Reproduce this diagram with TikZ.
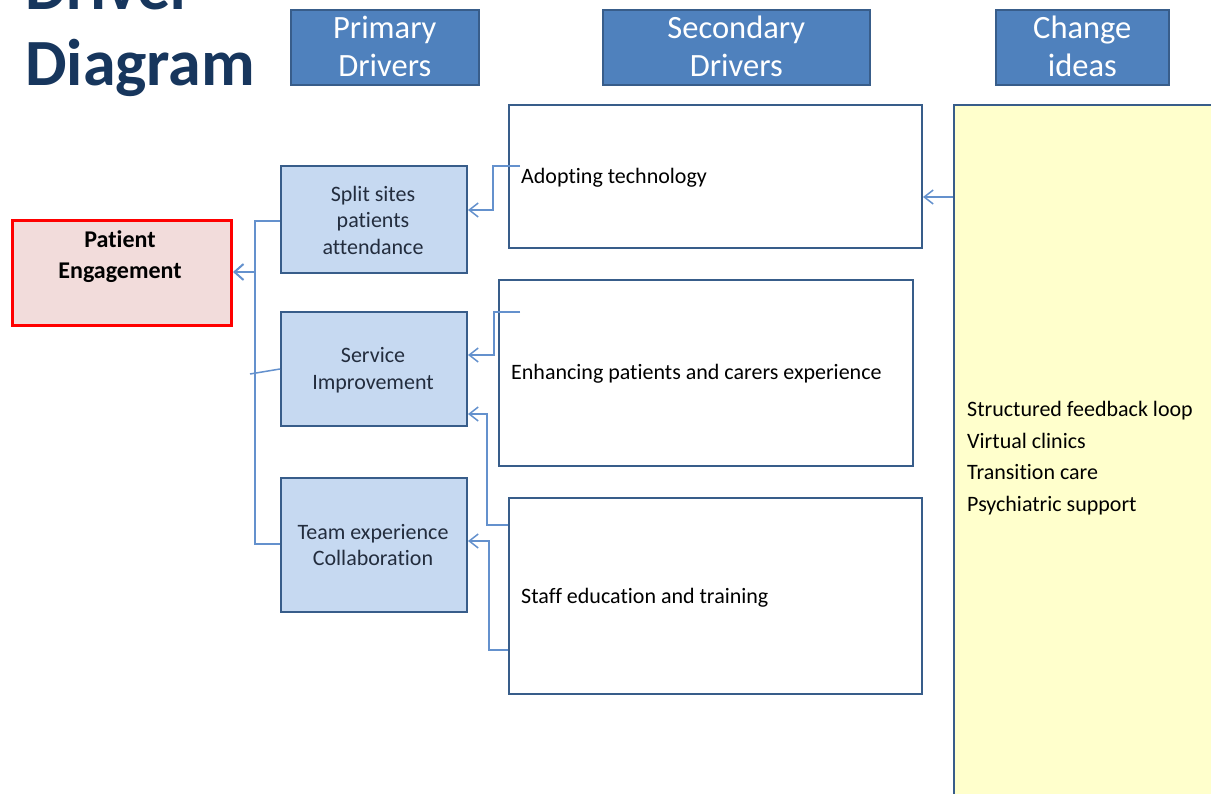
\documentclass[tikz,border=0pt]{standalone}
\usepackage{fontspec}
\setmainfont{Carlito}[Ligatures=NoCommon]
\usetikzlibrary{arrows.meta}
\definecolor{navy}{RGB}{23,54,93}
\definecolor{hdrfill}{RGB}{79,129,189}
\definecolor{boxline}{RGB}{56,93,138}
\definecolor{pfill}{RGB}{198,217,241}
\definecolor{pefill}{RGB}{242,220,219}
\definecolor{ideafill}{RGB}{255,255,204}
\definecolor{link}{RGB}{100,145,205}
\definecolor{ptext}{RGB}{35,45,62}
\begin{document}
\begin{tikzpicture}[x=1pt,y=-1pt,
  box/.style={draw=boxline, line width=2pt, anchor=north west, inner sep=0pt},
  header/.style={box, fill=hdrfill, line width=1.6pt},
  hdrtext/.style={text=white, font=\fontsize{32.5}{38}\selectfont, align=center},
  primary/.style={box, fill=pfill},
  ptxt/.style={text=ptext, font=\fontsize{22}{26.5}\selectfont, align=center},
  secondary/.style={box, fill=white},
  stxt/.style={anchor=west, text=black, font=\fontsize{22}{26}\selectfont, inner sep=0pt},
  conn/.style={draw=link, line width=1.5pt},
  arr/.style={conn, -{Straight Barb[length=9pt,width=14pt,line width=1.5pt]}}
]
\useasboundingbox (0,0) rectangle (1211,794);
\clip (0,0) rectangle (1211,794);

% title
\node[anchor=base west, inner sep=0pt, text=navy, font=\bfseries\fontsize{66}{78}\selectfont] (t1) at (25,10) {Driver};
\node[anchor=base west, inner sep=0pt, text=navy, font=\bfseries\fontsize{66}{78}\selectfont] (t2) at (25,86) {Diagram};

% column headers
\node[header, minimum width=188pt, minimum height=75pt] (h1) at (290,9) {};
\node[hdrtext] (h1t) at ([yshift=1pt]h1.center) {Primary\\Drivers};
\node[header, minimum width=267pt, minimum height=75pt] (h2) at (602,9) {};
\node[hdrtext] (h2t) at ([yshift=1pt]h2.center) {Secondary\\Drivers};
\node[header, minimum width=173pt, minimum height=75pt] (h3) at (995,9) {};
\node[hdrtext] (h3t) at ([yshift=1pt]h3.center) {Change\\ideas};

% aim
\node[box, draw=red, line width=3pt, fill=pefill, minimum width=219pt, minimum height=105pt] (pe) at (11,219) {};
\node[font=\bfseries\fontsize{24}{31}\selectfont, align=center] (pet) at (120,257) {Patient\\Engagement};

% primary drivers
\node[primary, minimum width=186pt, minimum height=107pt] (split) at (280,165) {};
\node[ptxt] (splitt) at (373,220) {Split sites\\patients\\attendance};
\node[primary, minimum width=186pt, minimum height=114pt] (serv) at (280,311) {};
\node[ptxt] (servt) at (373,370) {Service\\Improvement};
\node[primary, minimum width=186pt, minimum height=134pt] (team) at (280,477) {};
\node[ptxt] (teamt) at (373,545) {Team experience\\Collaboration};

% secondary drivers
\node[secondary, minimum width=413pt, minimum height=143pt] (adopt) at (508,104) {};
\node[stxt] (adoptt) at (521,178) {Adopting technology};
\node[secondary, minimum width=414pt, minimum height=186pt] (enh) at (498,279) {};
\node[stxt] (enht) at (511,374) {Enhancing patients and carers experience};
\node[secondary, minimum width=413pt, minimum height=196pt] (staff) at (508,497) {};
\node[stxt] (stafft) at (521,598) {Staff education and training};

% change ideas
\node[box, fill=ideafill, minimum width=320pt, minimum height=760pt] (ideas) at (953,104) {};
\node[anchor=west, inner sep=0pt, align=left, font=\fontsize{22}{31.7}\selectfont] (ideast) at (967,458)
  {Structured feedback loop\\Virtual clinics\\Transition care\\Psychiatric support};

% connectors
\coordinate (c1) at (520,166);
\coordinate (c2) at (520,312);
\draw[arr] (ideas.west |- 0,197) -- (adopt.east |- 0,197);
\draw[arr] (c1) -- (493,166) -- (493,210) -- (split.east |- 0,210);
\draw[arr] (c2) -- (494,312) -- (494,355) -- (serv.east |- 0,355);
\draw[arr] (staff.west |- 0,525) -- (487,525) -- (487,414) -- (serv.east |- 0,414);
\draw[arr] (staff.west |- 0,650) -- (489,650) -- (489,541) -- (team.east |- 0,541);
\draw[conn] (split.west |- 0,221) -- (255,221) -- (255,544) -- (team.west |- 0,544);
\draw[conn] (serv.west |- 0,369) -- (250,374);
\draw[conn, line width=2.5pt, -{Straight Barb[length=9pt,width=16pt,line width=2pt]}] (255,272) -- (pe.east |- 0,272);
\end{tikzpicture}
\end{document}
